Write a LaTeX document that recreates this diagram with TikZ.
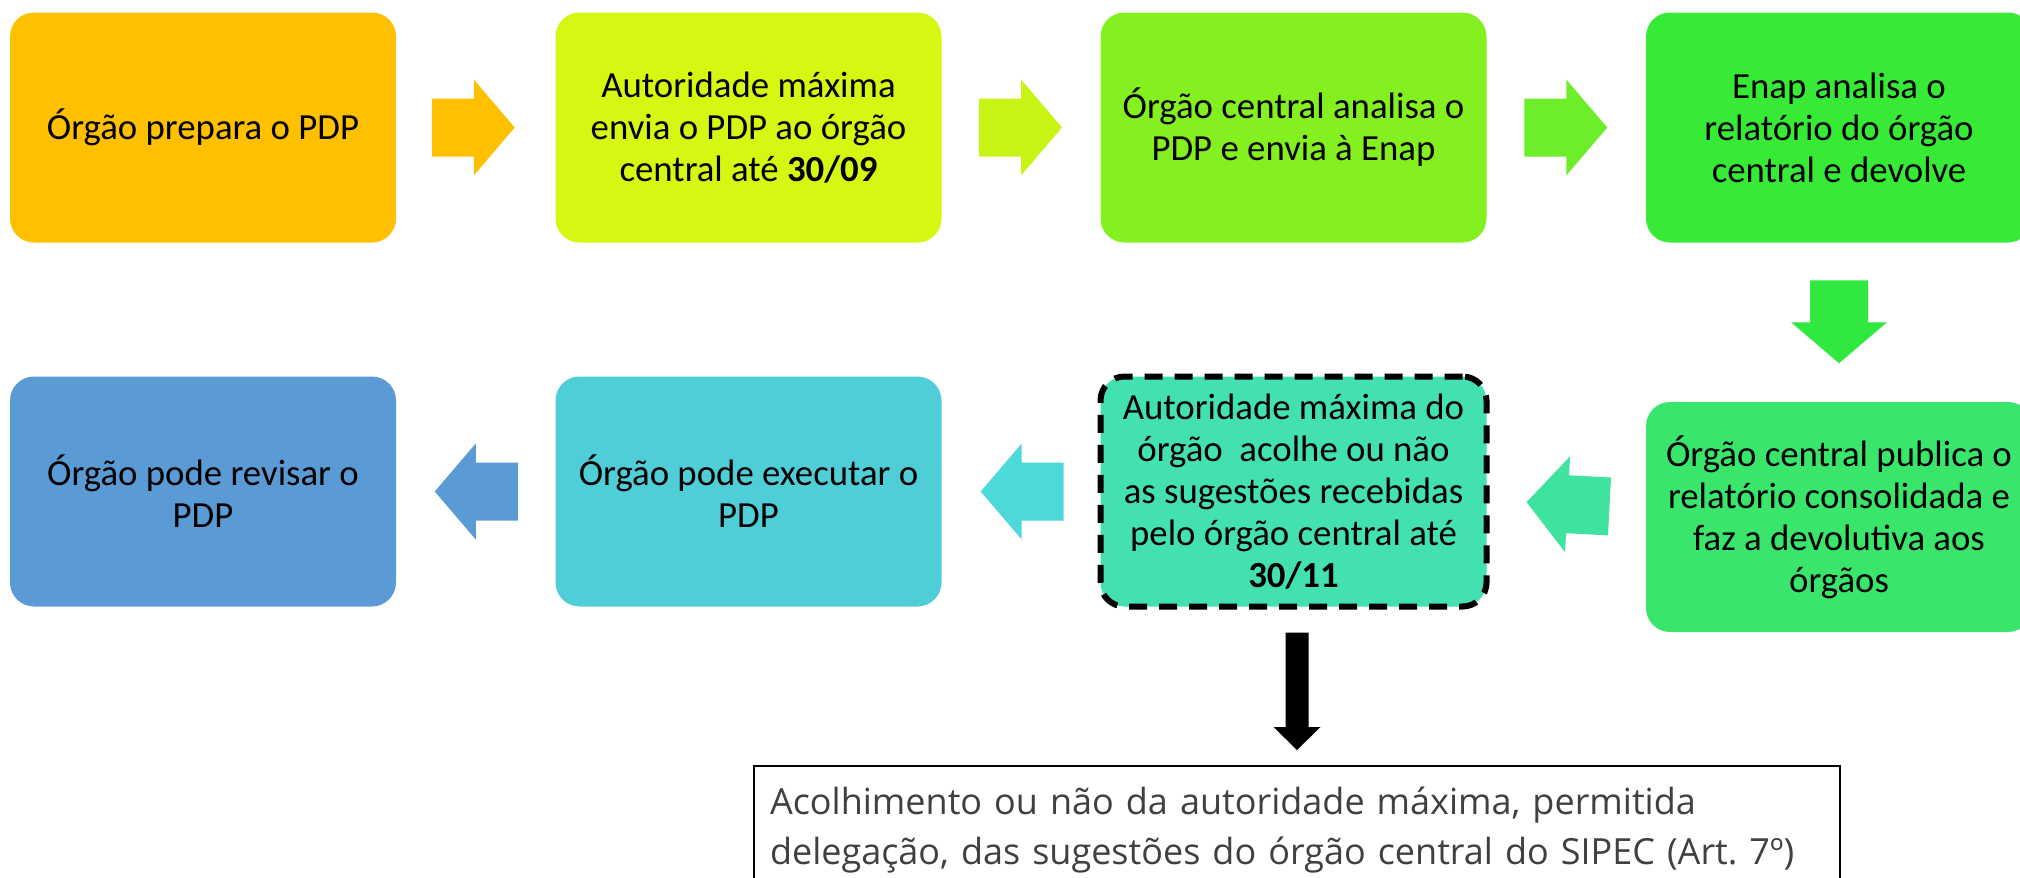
\documentclass[tikz,border=0pt]{standalone}
\usepackage{fontspec}
\setmainfont{Carlito}
\newfontfamily\opensans{Open Sans}
\usetikzlibrary{calc}
\definecolor{cA}{HTML}{FFC000}
\definecolor{cB}{HTML}{D6F711}
\definecolor{cC}{HTML}{84F020}
\definecolor{cD}{HTML}{36EA36}
\definecolor{cE}{HTML}{3AE56C}
\definecolor{cF}{HTML}{43E0B1}
\definecolor{cG}{HTML}{50CED8}
\definecolor{cH}{HTML}{5B9BD5}
\definecolor{aB}{HTML}{C8F516}
\definecolor{aC}{HTML}{6CEE2A}
\definecolor{aD}{HTML}{30E840}
\definecolor{aE}{HTML}{40E2A0}
\definecolor{aF}{HTML}{4DD8DA}
\definecolor{txtgray}{HTML}{404040}
\tikzset{
  stepbox/.style={rounded corners=12pt, minimum width=193pt, minimum height=115pt,
    inner sep=2pt, align=center, font=\fontsize{18.4}{21}\selectfont, text=black},
  dashbox/.style={stepbox, draw=black, line width=3pt, dash pattern=on 9pt off 6pt},
  notebox/.style={draw=black, line width=1pt, minimum width=543pt, minimum height=64pt,
    text width=527pt, inner xsep=8pt, align=left, text=txtgray,
    font=\opensans\fontsize{18}{25}\selectfont},
  barrow/.pic={\path[pic actions] (-42,-29) -- (0,-29) -- (0,-48) -- (41,0) -- (0,48) -- (0,29) -- (-42,29) -- cycle;}
}
\begin{document}
\begin{tikzpicture}[x=0.5pt, y=-0.5pt]
\useasboundingbox (0,0) rectangle (2020,878);
\clip (0,0) rectangle (2020,878);
% top row
\node[stepbox, fill=cA] (b1) at (203,127.5) {Órgão prepara o PDP};
\node[stepbox, fill=cB] (b2) at (748.5,127.5) {Autoridade máxima\\envia o PDP ao órgão\\central até \textbf{30/09}};
\node[stepbox, fill=cC] (b3) at (1293.5,127.5) {Órgão central analisa o\\PDP e envia à Enap};
\node[stepbox, fill=cD] (b4) at (1839,127.5) {Enap analisa o\\relatório do órgão\\central e devolve};
% bottom row
\node[stepbox, fill=cE] (b8) at (1839,517) {Órgão central publica o\\relatório consolidada e\\faz a devolutiva aos\\órgãos};
\node[dashbox, fill=cF] (b7) at (1293.5,491.5) {Autoridade máxima do\\órgão\ \ acolhe ou não\\as sugestões recebidas\\pelo órgão central até\\\textbf{30/11}};
\node[stepbox, fill=cG] (b6) at (748.5,491.5) {Órgão pode executar o\\PDP};
\node[stepbox, fill=cH] (b5) at (203,491.5) {Órgão pode revisar o\\PDP};
% note
\node[notebox, anchor=north] (bot) at (1297,765) {Acolhimento ou não da autoridade máxima, permitida\\delegação, das sugestões do órgão central do SIPEC (Art.~7º)};
% block arrows
\pic[fill=cA] at ($(b1.east)!0.5!(b2.west)+(-2,0)$) {barrow};
\pic[fill=aB] at ($(b2.east)!0.5!(b3.west)$) {barrow};
\pic[fill=aC] at ($(b3.east)!0.5!(b4.west)$) {barrow};
\pic[fill=aD, rotate=-90] at ($(b4.south)!0.5!(b8.north)$) {barrow};
\pic[fill=aE, rotate=177] at ($(b7.east)!0.5!(b8.west)$) {barrow};
\pic[fill=aF, rotate=180] at ($(b6.east)!0.5!(b7.west)+(2,0)$) {barrow};
\pic[fill=cH, rotate=180] at ($(b5.east)!0.5!(b6.west)$) {barrow};
% black arrow
\coordinate (ktop) at ($(bot.north |- b7.south)+(0,23)$);
\coordinate (ktip) at ($(bot.north)+(0,-15)$);
\fill[black] ($(ktop)+(-11.5,0)$) -- ($(ktop)+(11.5,0)$) -- ($(ktip)+(11.5,-23)$) -- ($(ktip)+(23.5,-23)$) -- (ktip) -- ($(ktip)+(-23.5,-23)$) -- ($(ktip)+(-11.5,-23)$) -- cycle;
\end{tikzpicture}
\end{document}
